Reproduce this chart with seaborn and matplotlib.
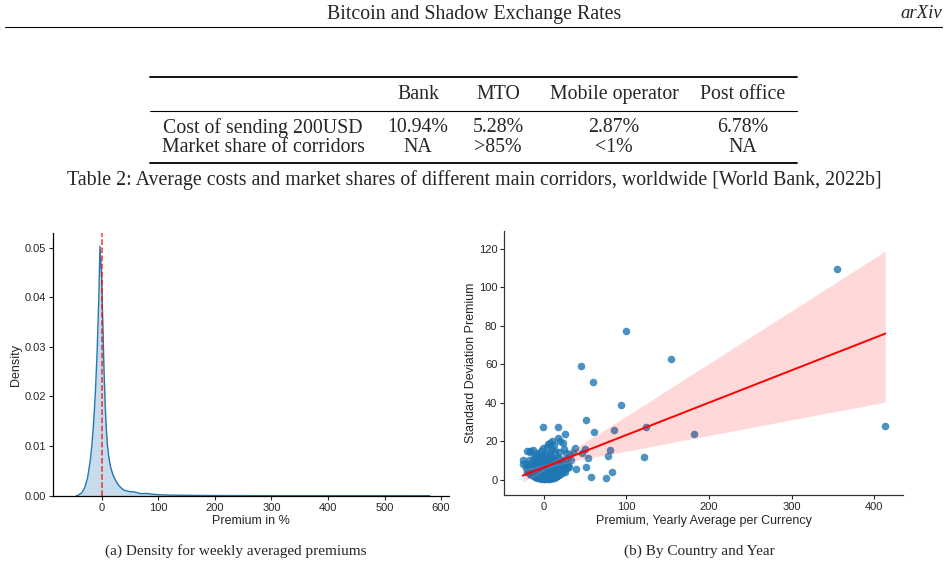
import numpy as np
import pandas as pd
import matplotlib
matplotlib.use("Agg")
import matplotlib.pyplot as plt
import seaborn as sns
from matplotlib.lines import Line2D

# Page text
header_title = "Bitcoin and Shadow Exchange Rates"
header_right = "arXiv"
table_cols = ["Bank", "MTO", "Mobile operator", "Post office"]
table_rows = ["Cost of sending 200USD", "Market share of corridors"]
cost_values = ["10.94%", "5.28%", "2.87%", "6.78%"]
share_values = ["NA", ">85%", "<1%", "NA"]
table_caption = ("Table 2: Average costs and market shares of different main corridors, "
                 "worldwide [World Bank, 2022b]")
caption_a = "(a) Density for weekly averaged premiums"
caption_b = "(b) By Country and Year"

# (a) density curve
dens_x = [-45, -42, -35, -30, -25, -20, -17, -14, -11, -8, -5, -3, 0, 2, 4, 6, 8, 10,
          13, 16, 20, 25, 30, 35, 40, 50, 55, 60, 70, 80, 90, 100, 120, 150, 200,
          300, 400, 500, 580]
dens_y = [0.0, 0.00005, 0.0006, 0.0016, 0.0035, 0.0072, 0.0105, 0.015, 0.021, 0.029,
          0.040, 0.0503, 0.044, 0.035, 0.026, 0.019, 0.014, 0.0105, 0.0075, 0.0057,
          0.0042, 0.003, 0.0021, 0.0015, 0.0011, 0.0008, 0.0008, 0.0007, 0.0004,
          0.00045, 0.0003, 0.0002, 0.00012, 0.00008, 0.00003, 0.00001, 0.000005,
          0.000002, 0.0]

# (b) yearly average premium vs standard deviation, per currency
outlier_avg = [354.8, 413.3, 100, 154, 44.8, 60, 93.5, 51.2, 61.3, 84.7, 124.2, 181.5,
               121, 77.4, 80.6, 82.7, 75, 56.9, 51.2, 53, 49.6, 46, 39, 37.5]
outlier_std = [109.6, 28.1, 77.5, 62.6, 59.3, 50.8, 38.8, 31.0, 24.6, 26.0, 27.6, 23.6,
               12.0, 12.5, 15.4, 3.8, 1.0, 1.4, 6.4, 11.3, 16.1, 13.7, 5.5, 16.6]
upper_avg = [16.9, -0.8, 25.8, 16.9, 19.8, 23, 8, 10, 5, -20, -16.5, -25.4, -24.6, 12, 4,
             -1, -12.5, -17, 24, 27, 35, 30, 33, 14, 19, 10, 7, 2, -3, -8]
upper_std = [27.2, 27.2, 23.8, 21.5, 20.3, 18.9, 19, 20.2, 18.5, 15, 14.9, 10.2, 8, 18, 17,
             16.5, 15.4, 14.5, 15.8, 13.8, 14.5, 13.3, 10, 15, 14.2, 16, 14.5, 13.5, 15, 14]
# dense blob around the origin: (std level, averages at that level)
core_rows = [
    (0.3, [-3, 0, 2, 5, 8]),
    (0.6, [-6, -2, 1, 3, 6, 11]),
    (1.0, [-8, -5, -1, 1, 4, 7, 10, 13]),
    (1.4, [-10, -4, 0, 2, 5, 8, 15]),
    (1.8, [-12, -6, -2, 0, 3, 6, 9, 12, 16]),
    (2.2, [-13, -8, -3, 0, 2, 5, 8, 10, 17]),
    (2.6, [-15, -10, -7, -4, -1, 1, 4, 7, 11, 14, 19]),
    (3.0, [-16, -11, -6, -3, 1, 3, 6, 9, 14, 20]),
    (3.4, [-18, -13, -9, -5, -2, 0, 2, 5, 8, 12, 17, 22]),
    (3.8, [-8, -4, -1, 1, 4, 7, 11, 16]),
    (4.2, [-20, -14, -11, -6, -3, -1, 1, 3, 6, 10, 15, 21, 26]),
    (4.6, [-18, -9, -2, 0, 2, 5, 8, 12, 23]),
    (5.0, [-16, -12, -8, -4, 0, 2, 4, 9, 13, 18, 24]),
    (5.4, [-14, -6, -3, 1, 6, 10, 15]),
    (5.8, [-22, -17, -10, -5, -1, 3, 7, 11, 16, 20, 28]),
    (6.6, [-19, -13, -7, -2, 1, 5, 8, 14, 19, 25, 31]),
    (7.4, [-15, -9, -3, 0, 4, 10, 17, 23, 29]),
    (8.2, [-21, -11, -6, 2, 6, 12, 21, 27]),
    (9.0, [-14, -7, -1, 4, 9, 15, 20]),
    (10.0, [-18, -9, -3, 3, 8, 13, 22]),
    (11.0, [-12, -5, 1, 6, 11, 18, 28]),
    (12.0, [-10, -4, 2, 9, 16]),
    (13.0, [-7, 0, 7]),
]

core_avg = [x for level, xs in core_rows for x in xs]
core_std = [level for level, xs in core_rows for x in xs]
scatter_df = pd.DataFrame({"avg": outlier_avg + upper_avg + core_avg,
                           "std": outlier_std + upper_std + core_std})
dens_df = pd.DataFrame({"x": dens_x, "y": dens_y})

sns.set_theme(style="ticks")
plt.rcParams["font.family"] = ["Liberation Sans", "DejaVu Sans"]

fig = plt.figure(figsize=(9.48, 5.68), dpi=100)
W, H = 948, 568
serif = ["Liberation Serif", "DejaVu Serif"]

def fx(px):
    return px / W

def fy(py):
    return 1 - py / H

# header
fig.text(fx(474), fy(14), header_title, family=serif, fontsize=14.3, ha="center", va="center")
fig.text(fx(942), fy(14), header_right, family=serif, fontsize=13.5, style="italic",
         ha="right", va="center")
fig.add_artist(Line2D([fx(5), fx(942)], [fy(27), fy(27)], color="black", lw=0.8))

# table
for yy, lw in [(77, 1.3), (111, 0.8), (163, 1.3)]:
    fig.add_artist(Line2D([fx(150), fx(797)], [fy(yy), fy(yy)], color="black", lw=lw))
col_x = [418, 498, 614, 743]
tfs = 14.3
for cx, name in zip(col_x, table_cols):
    fig.text(fx(cx), fy(95), name, family=serif, fontsize=tfs, ha="center", va="center")
for ry, label, vals in [(128, table_rows[0], cost_values), (147.5, table_rows[1], share_values)]:
    fig.text(fx(263), fy(ry), label, family=serif, fontsize=tfs, ha="center", va="center")
    for cx, v in zip(col_x, vals):
        fig.text(fx(cx), fy(ry), v, family=serif, fontsize=tfs, ha="center", va="center")
fig.text(fx(474), fy(180), table_caption, family=serif, fontsize=tfs, ha="center", va="center")

# (a) density
ax1 = fig.add_axes([fx(53), fy(495.7), fx(396), 262.4 / H])
ax1.fill_between(dens_df["x"], dens_df["y"], color="#1f77b4", alpha=0.25, lw=0)
sns.lineplot(data=dens_df, x="x", y="y", ax=ax1, color="#1f77b4", lw=1.0)
ax1.axvline(0, color="red", ls="--", lw=1.1, alpha=0.8)
ax1.set_xlim(-86, 614)
ax1.set_ylim(0, 0.0529)
ax1.set_xticks([0, 100, 200, 300, 400, 500, 600])
ax1.set_yticks([0, 0.01, 0.02, 0.03, 0.04, 0.05])
ax1.set_yticklabels(["0.00", "0.01", "0.02", "0.03", "0.04", "0.05"])
ax1.set_xlabel("Premium in %", fontsize=9, labelpad=2)
ax1.set_ylabel("Density", fontsize=9, labelpad=1.5)
ax1.tick_params(labelsize=8, length=3, width=0.8, pad=2)
sns.despine(ax=ax1)
for s in ["left", "bottom"]:
    ax1.spines[s].set_color("black")
    ax1.spines[s].set_linewidth(0.9)

# (b) scatter with regression
ax2 = fig.add_axes([fx(504.3), fy(495), fx(398.7), 264.3 / H])
sns.regplot(data=scatter_df, x="avg", y="std", ax=ax2, seed=0,
            scatter_kws={"s": 30, "color": "#1f77b4", "alpha": 0.8, "linewidths": 0},
            line_kws={"color": "red", "lw": 1.4})
ax2.set_xlim(-47.7, 434.7)
ax2.set_ylim(-8, 129.5)
ax2.set_xticks([0, 100, 200, 300, 400])
ax2.set_yticks([0, 20, 40, 60, 80, 100, 120])
ax2.set_xlabel("Premium, Yearly Average per Currency", fontsize=9, labelpad=2)
ax2.set_ylabel("Standard Deviation Premium", fontsize=9, labelpad=1.5)
ax2.tick_params(labelsize=8, length=3, width=0.8, pad=2)
sns.despine(ax=ax2)
for s in ["left", "bottom"]:
    ax2.spines[s].set_color("#333333")
    ax2.spines[s].set_linewidth(0.9)

# sub captions
fig.text(fx(236), fy(551), caption_a, family=serif, fontsize=11, ha="center", va="center")
fig.text(fx(699), fy(551), caption_b, family=serif, fontsize=11, ha="center", va="center")

fig.savefig("out.png", dpi=100)
